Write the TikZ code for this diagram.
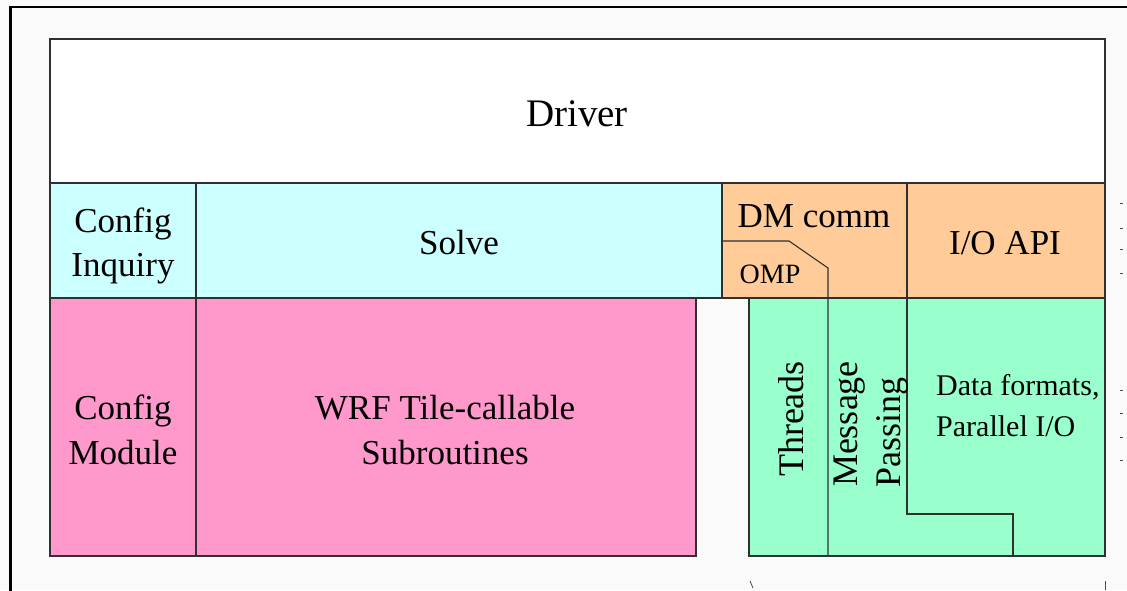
\documentclass[tikz,border=0pt]{standalone}
\usepackage{fontspec}
\setmainfont{Liberation Serif}
\newfontfamily\tnr{Liberation Serif}
\definecolor{bgcol}{HTML}{FAFAFA}
\definecolor{cyanc}{HTML}{CCFFFF}
\definecolor{pinkc}{HTML}{FF99CC}
\definecolor{peachc}{HTML}{FFCC99}
\definecolor{greenc}{HTML}{99FFCC}
\definecolor{edgec}{HTML}{303030}
\tikzset{
  cell/.style={draw=edgec, line width=1.1pt},
  lbl/.style={inner sep=0pt, anchor=base, font=\tnr\fontsize{35}{42}\selectfont},
  small/.style={inner sep=0pt, anchor=base, font=\tnr\fontsize{30}{36}\selectfont},
  vlbl/.style={inner sep=0pt, anchor=base, rotate=90, font=\tnr\fontsize{36}{42}\selectfont},
  straymark/.style={draw=black!70, line width=0.8pt}
}
\begin{document}
\begin{tikzpicture}[x=1pt,y=-1pt]
\useasboundingbox (0,0) rectangle (1127,590);
\fill[bgcol] (0,0) rectangle (1127,590);
\begin{scope}
\clip (0,0) rectangle (1127,590);
\draw[black, line width=2.5pt] (10.5,7) rectangle (1140,600);
\end{scope}
% Driver
\path[cell, fill=white] (50,39) rectangle (1105,183);
% Row 2
\path[cell, fill=cyanc] (50,183) rectangle (196,298);
\path[cell, fill=cyanc] (196,183) rectangle (722,298);
\path[cell, fill=peachc] (722,183) rectangle (907,298);
\path[cell, fill=peachc] (907,183) rectangle (1105,298);
% Row 3
\path[cell, fill=pinkc] (50,298) rectangle (196,556);
\path[cell, fill=pinkc] (196,298) rectangle (696,556);
\path[cell, fill=greenc] (749,298) rectangle (1105,556);
% OMP / threads divider
\coordinate (o1) at (722,241);
\coordinate (o2) at (789,241);
\coordinate (o3) at (828,268);
\coordinate (o4) at (828,556);
\draw[cell] (o1) -- (o2) -- (o3) -- (o4);
% IO step divider
\coordinate (s1) at (907,298);
\coordinate (s2) at (907,514);
\coordinate (s3) at (1013,514);
\coordinate (s4) at (1013,556);
\draw[cell] (s1) -- (s2) -- (s3) -- (s4);
% Labels
\node[lbl, font=\tnr\fontsize{39}{46}\selectfont] (driver) at (577,126) {Driver};
\node[lbl] (ci1) at (123,232) {Config};
\node[lbl] (ci2) at (123,276) {Inquiry};
\node[lbl] (solve) at (459,254) {Solve};
\node[lbl] (dm) at (814,227) {DM comm};
\node[lbl, font=\tnr\fontsize{28}{34}\selectfont] (omp) at (770,283) {OMP};
\node[lbl] (io) at (1005,254) {I/O API};
\node[lbl] (cm1) at (123,419) {Config};
\node[lbl] (cm2) at (123,464) {Module};
\node[lbl] (wrf1) at (445,419) {WRF Tile-callable};
\node[lbl] (wrf2) at (445,464) {Subroutines};
\node[small, anchor=base west] (df1) at (936,395) {Data formats,};
\node[small, anchor=base west] (df2) at (936,436) {Parallel I/O};
\node[vlbl] (thr) at (803,419) {Threads};
\node[vlbl] (msg1) at (857,424) {Message};
\node[vlbl] (msg2) at (900,432) {Passing};
% stray marks at the edges
\foreach \yy in {203,228,249,273,390,413,437,460}
  \draw[straymark] (1120,\yy) -- (1122.5,\yy);
\draw[straymark] (750,581) -- (753,588);
\draw[straymark] (1105,581) -- (1105,590);
\end{tikzpicture}
\end{document}
